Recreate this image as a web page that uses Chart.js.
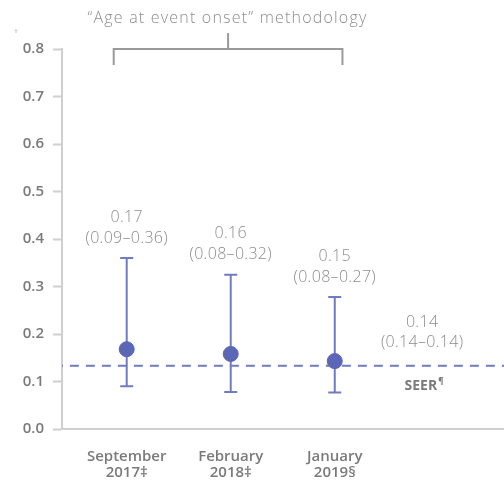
<!DOCTYPE html>
<html>
<head>
<meta charset="utf-8">
<script src="https://cdn.jsdelivr.net/npm/chart.js@4"></script>
<style>
  html, body { margin: 0; padding: 0; background: #fff; overflow: hidden; }
  #wrap { width: 504px; height: 481px; position: relative; }
  canvas { display: block; }
</style>
</head>
<body>
<div id="wrap"><canvas id="canvas"></canvas></div>
<script>
// data
const categories = [['September', '2017\u2021'], ['February', '2018\u2021'], ['January', '2019\u00a7']];
const estimates = [0.168, 0.158, 0.143];
const lower = [0.09, 0.078, 0.077];
const upper = [0.36, 0.325, 0.278];
const estimateText = ['0.17', '0.16', '0.15'];
const intervalText = ['(0.09\u20130.36)', '(0.08\u20130.32)', '(0.08\u20130.27)'];
const seerValue = 0.133;
const seerText = ['0.14', '(0.14\u20130.14)'];
const yTicks = [0, 0.1, 0.2, 0.3, 0.4, 0.5, 0.6, 0.7, 0.8];

const blue = '#5b67b6';
const barBlue = '#6f7bc2';
const grey = '#8c8c8c';
const axisGrey = '#cfcfcf';
const labelFont = '"Open Sans", Lato, sans-serif';

const points = estimates.map((v, i) => ({ x: i, y: v }));

const overlay = {
    id: 'overlay',
    beforeDatasetsDraw(chart) {
        const ctx = chart.ctx;
        const xs = chart.scales.x, ys = chart.scales.y;
        ctx.save();
        // error bars
        ctx.strokeStyle = barBlue;
        ctx.lineWidth = 2;
        for (let i = 0; i < estimates.length; i++) {
            const x = xs.getPixelForValue(i);
            const yl = ys.getPixelForValue(lower[i]);
            const yu = ys.getPixelForValue(upper[i]);
            ctx.beginPath();
            ctx.moveTo(x, yl); ctx.lineTo(x, yu);
            ctx.moveTo(x - 6.5, yl); ctx.lineTo(x + 6.5, yl);
            ctx.moveTo(x - 6.5, yu); ctx.lineTo(x + 6.5, yu);
            ctx.stroke();
        }
        ctx.restore();
    },
    afterDraw(chart) {
        const ctx = chart.ctx;
        const xs = chart.scales.x, ys = chart.scales.y;
        ctx.save();
        ctx.textAlign = 'center';
        ctx.textBaseline = 'middle';
        ctx.fillStyle = grey;
        ctx.font = '300 16px ' + labelFont;
        ctx.letterSpacing = '0.3px';
        for (let i = 0; i < estimates.length; i++) {
            const x = xs.getPixelForValue(i);
            const yu = ys.getPixelForValue(upper[i]);
            ctx.fillText(estimateText[i], x, yu - 41);
            ctx.fillText(intervalText[i], x, yu - 20);
        }
        // SEER labels
        const sx = xs.getPixelForValue(2.84);
        const sy = ys.getPixelForValue(seerValue);
        ctx.fillText(seerText[0], sx, sy - 43);
        ctx.fillText(seerText[1], sx, sy - 23);
        ctx.letterSpacing = '0px';
        ctx.font = 'bold 14px ' + labelFont;
        ctx.fillStyle = '#7a7a7a';
        ctx.textAlign = 'right';
        ctx.fillText('SEER', sx + 15, sy + 20);
        ctx.font = 'bold 8px ' + labelFont;
        ctx.textAlign = 'left';
        ctx.fillText('\u00b6', sx + 16, sy + 16);

        // bracket + title
        const bl = xs.getPixelForValue(-0.125);
        const br = xs.getPixelForValue(2.074);
        const bm = (bl + br) / 2;
        const by = ys.getPixelForValue(0.8);
        ctx.strokeStyle = '#9a9a9a';
        ctx.lineWidth = 2;
        ctx.beginPath();
        ctx.moveTo(bl, by + 16); ctx.lineTo(bl, by); ctx.lineTo(br, by); ctx.lineTo(br, by + 16);
        ctx.moveTo(bm, by); ctx.lineTo(bm, by - 16);
        ctx.stroke();
        ctx.fillStyle = grey;
        ctx.textAlign = 'center';
        ctx.font = '300 16px ' + labelFont;
        ctx.letterSpacing = '1.2px';
        ctx.fillText('\u201cAge at event onset\u201d methodology', 227.5, 18);
        ctx.letterSpacing = '0px';
        ctx.font = '6px ' + labelFont;
        ctx.fillText('\u2020', 16, 31);
        ctx.restore();
    }
};

const config = {
    type: 'scatter',
    data: {
        datasets: [{
            label: 'Estimate',
            data: points,
            backgroundColor: blue,
            borderColor: blue,
            pointRadius: 7.5,
            pointHoverRadius: 7.5,
            order: 0
        }, {
            label: 'SEER',
            type: 'line',
            data: [{ x: -0.7, y: seerValue }, { x: 3.7, y: seerValue }],
            borderColor: barBlue,
            borderWidth: 2,
            borderDash: [9, 7],
            pointRadius: 0,
            fill: false,
            order: 1
        }]
    },
    options: {
        responsive: true,
        maintainAspectRatio: false,
        animation: false,
        layout: { autoPadding: false, padding: { top: 49, left: 0, right: 0, bottom: 0 } },
        plugins: { legend: { display: false }, tooltip: { enabled: false } },
        scales: {
            x: {
                type: 'linear',
                min: -0.622,
                max: 3.627,
                grid: { display: false },
                border: { display: true, color: axisGrey, width: 2 },
                afterBuildTicks: (axis) => { axis.ticks = [0, 1, 2].map(v => ({ value: v })); },
                afterFit: (axis) => { axis.height = 52; axis.paddingLeft = 0; axis.paddingRight = 0; },
                ticks: {
                    autoSkip: false,
                    maxRotation: 0,
                    padding: 12,
                    color: '#7a7a7a',
                    font: { family: labelFont, size: 15, weight: '600', lineHeight: 1.05 },
                    callback: (v) => categories[v]
                }
            },
            y: {
                min: 0,
                max: 0.8,
                afterBuildTicks: (axis) => { axis.ticks = yTicks.map(v => ({ value: v })); },
                afterFit: (axis) => { axis.width = 62; },
                grid: { display: true, drawOnChartArea: false, drawTicks: true, tickLength: 9, color: axisGrey, tickColor: axisGrey, tickWidth: 2 },
                border: { display: true, color: axisGrey, width: 2 },
                ticks: {
                    padding: 9,
                    color: '#7a7a7a',
                    font: { family: labelFont, size: 15, weight: '600' },
                    callback: (v) => v.toFixed(1)
                }
            }
        }
    },
    plugins: [overlay]
};

const myChart = new Chart(document.querySelector('#canvas'), config);
</script>
</body>
</html>
